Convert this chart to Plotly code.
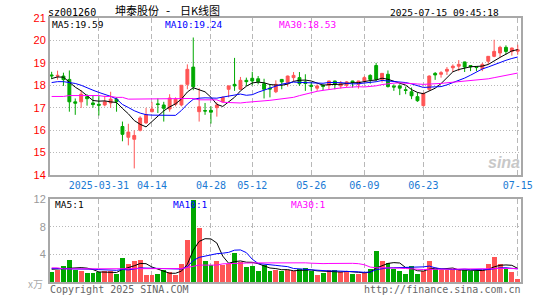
import plotly.graph_objects as go

# ---------------- data ----------------
trading_days = {
    "2025-03": [19, 20, 21, 24, 25, 26, 27, 28, 31],
    "2025-04": [1, 2, 3, 7, 8, 9, 10, 11, 14, 15, 16, 17, 18, 21, 22, 23, 24, 25, 28, 29, 30],
    "2025-05": [6, 7, 8, 9, 12, 13, 14, 15, 16, 19, 20, 21, 22, 23, 26, 27, 28, 29, 30],
    "2025-06": [3, 4, 5, 6, 9, 10, 11, 12, 13, 16, 17, 18, 19, 20, 23, 24, 25, 26, 27, 30],
    "2025-07": [1, 2, 3, 4, 7, 8, 9, 10, 11, 14, 15],
}
dates = [f"{m}-{d:02d}" for m, ds in trading_days.items() for d in ds]

opens = [18.46, 18.40, 18.41, 18.26, 17.26, 17.26, 17.49, 17.21, 17.15, 17.12,
         17.21, 17.38, 16.16, 15.68, 15.59, 15.99, 16.32, 16.82, 17.17, 17.12,
         16.94, 17.15, 17.12, 18.04, 18.81, 16.82, 16.87, 16.88, 17.00, 17.26,
         17.82, 18.04, 17.82, 18.22, 18.31, 18.29, 18.07, 17.87, 17.71, 18.26,
         18.12, 18.34, 18.34, 18.15, 18.00, 17.87, 18.00, 18.00, 18.19, 17.97,
         18.00, 18.19, 18.04, 18.19, 18.44, 18.88, 18.26, 18.49, 17.96, 17.97,
         17.80, 17.71, 17.49, 17.09, 17.82, 18.53, 18.49, 18.63, 18.78, 18.85,
         19.04, 18.88, 18.82, 18.74, 19.07, 19.29, 19.44, 19.69, 19.51, 19.52]
highs = [18.60, 18.65, 18.56, 18.66, 17.41, 17.78, 17.60, 17.56, 17.53, 17.53,
         17.71, 17.46, 16.38, 16.28, 15.99, 16.62, 16.99, 17.26, 17.41, 17.26,
         17.60, 17.46, 18.00, 18.93, 20.13, 17.87, 17.21, 17.06, 17.24, 17.50,
         17.99, 19.22, 18.37, 18.34, 18.60, 18.41, 18.29, 18.04, 18.22, 18.28,
         18.43, 18.59, 18.59, 18.49, 18.15, 18.04, 18.04, 18.20, 18.20, 18.19,
         18.19, 18.20, 18.20, 18.41, 18.49, 19.00, 18.53, 18.66, 18.04, 18.04,
         17.94, 17.90, 17.68, 17.68, 18.44, 18.59, 18.63, 18.81, 18.93, 19.12,
         19.05, 18.90, 18.83, 19.00, 19.30, 20.03, 19.76, 19.78, 19.68, 19.81]
lows = [18.27, 18.25, 17.97, 16.82, 16.68, 16.99, 17.09, 17.00, 16.65, 17.06,
        16.99, 16.82, 15.50, 15.32, 14.29, 15.94, 16.28, 16.79, 16.76, 16.38,
        16.82, 17.06, 17.06, 17.82, 17.78, 16.38, 16.68, 16.29, 16.60, 17.24,
        17.46, 17.75, 17.78, 17.97, 18.00, 18.04, 17.41, 17.46, 17.65, 17.82,
        17.94, 18.15, 17.97, 17.75, 17.75, 17.75, 17.78, 17.82, 17.82, 17.85,
        17.90, 17.90, 17.85, 18.12, 18.07, 18.19, 18.12, 17.90, 17.75, 17.56,
        17.60, 17.38, 17.26, 17.06, 17.75, 18.24, 18.34, 18.46, 18.59, 18.63,
        18.59, 18.63, 18.63, 18.63, 18.93, 19.25, 19.25, 19.37, 19.32, 19.37]
closes = [18.42, 18.44, 18.25, 17.26, 17.20, 17.60, 17.40, 17.14, 17.11, 17.26,
          17.38, 17.27, 15.81, 15.91, 15.76, 16.54, 16.69, 16.94, 17.14, 16.97,
          17.43, 17.38, 18.00, 18.71, 17.93, 17.04, 16.85, 16.80, 17.12, 17.46,
          17.97, 17.97, 18.22, 18.16, 18.19, 18.16, 17.82, 17.83, 18.04, 18.15,
          18.41, 18.44, 18.07, 18.08, 17.95, 17.97, 17.95, 18.19, 18.04, 18.07,
          18.15, 18.12, 18.19, 18.34, 18.26, 18.26, 18.53, 17.94, 17.92, 17.87,
          17.77, 17.53, 17.31, 17.63, 18.41, 18.46, 18.56, 18.71, 18.85, 18.93,
          18.81, 18.82, 18.79, 18.93, 19.29, 19.51, 19.69, 19.51, 19.66, 19.58]
volumes = [1.38, 1.71, 2.24, 3.19, 1.67, 1.62, 1.33, 1.24, 1.43, 1.52,
           1.52, 1.19, 3.48, 2.52, 3.05, 3.19, 1.05, 1.05, 1.10, 1.71,
           1.43, 1.05, 2.60, 6.05, 11.90, 7.80, 3.05, 2.43, 3.05, 2.43,
           2.62, 4.24, 2.93, 2.14, 2.34, 1.62, 2.43, 1.62, 1.71, 1.52,
           1.71, 1.57, 1.90, 2.05, 1.52, 1.05, 1.33, 1.71, 1.71, 1.43,
           1.52, 1.19, 1.19, 1.33, 1.90, 4.48, 3.05, 2.71, 1.90, 1.62,
           1.19, 2.33, 1.14, 1.62, 3.05, 1.90, 1.71, 1.76, 1.71, 1.71,
           1.71, 1.52, 1.62, 1.71, 2.62, 3.52, 2.62, 1.90, 1.43, 0.38]

# moving-average values before enough visible history exists
ma5_head = [18.30, 18.37, 18.36, 18.15]
ma10_head = [18.12, 18.16, 18.16, 18.12, 18.08, 18.00, 17.88, 17.78, 17.68]
ma30_head = [17.50, 17.50, 17.50, 17.54, 17.54, 17.54, 17.54, 17.54, 17.54, 17.50,
             17.50, 17.46, 17.46, 17.38, 17.38, 17.38, 17.38, 17.38, 17.38, 17.38,
             17.38, 17.41, 17.41, 17.41, 17.41, 17.35, 17.35, 17.35, 17.35]
vol_ma5_head = [1.85, 1.90, 1.95, 2.00]
vol_ma10_head = [1.95, 1.95, 1.95, 1.95, 1.95, 1.95, 1.90, 1.85, 1.80]
vol_ma30_head = [2.05, 2.05] + [1.90] * 20 + [1.95, 2.10, 2.30, 2.45, 2.45, 2.45, 2.45]

tick_dates = ["2025-03-31", "2025-04-14", "2025-04-28", "2025-05-12",
              "2025-05-26", "2025-06-09", "2025-06-23", "2025-07-15"]
tick_labels = ["2025-03-31", "04-14", "04-28", "05-12", "05-26", "06-09", "06-23", "07-15"]
price_ticks = [14, 15, 16, 17, 18, 19, 20, 21]
vol_ticks = [4, 8, 12]
ma_labels = ["MA5:19.59", "MA10:19.24", "MA30:18.53"]
vol_ma_labels = ["MA5:1", "MA10:1", "MA30:1"]
code = "sz001260"
name_parts = ["坤泰股份", "-", "日K线图"]
timestamp = "2025-07-15 09:45:18"


def moving_avg(values, n, head):
    out = list(head)
    for i in range(len(head), len(values)):
        out.append(sum(values[i - n + 1:i + 1]) / n)
    return out


idx = list(range(len(dates)))
ma5 = moving_avg(closes, 5, ma5_head)
ma10 = moving_avg(closes, 10, ma10_head)
ma30 = moving_avg(closes, 30, ma30_head)
vma5 = moving_avg(volumes, 5, vol_ma5_head)
vma10 = moving_avg(volumes, 10, vol_ma10_head)
vma30 = moving_avg(volumes, 30, vol_ma30_head)

# ---------------- styling ----------------
W, H = 545, 300
L, R, T, B = 50, 16, 18, 15
PW, PH = W - L - R, H - T - B
RED, GREEN = "#ff5555", "#00a800"
MA_COLORS = ["#000000", "#0000ff", "#ff00ff"]
FRAME = "#a8a8a8"
GRID = "#b8b8b8"
MONO = "DejaVu Sans Mono"


def px(x):
    return (x - L) / PW


def py(y):
    return (H - B - y) / PH


fig = go.Figure()
fig.add_trace(go.Candlestick(
    x=idx, open=opens, high=highs, low=lows, close=closes,
    increasing=dict(line=dict(color=RED, width=1), fillcolor=RED),
    decreasing=dict(line=dict(color=GREEN, width=1), fillcolor=GREEN),
    whiskerwidth=0, xaxis="x", yaxis="y", hoverinfo="skip"))
for series, col in zip([ma5, ma10, ma30], MA_COLORS):
    fig.add_trace(go.Scatter(x=idx, y=series, mode="lines", line=dict(color=col, width=1),
                             xaxis="x", yaxis="y", hoverinfo="skip"))

bar_colors = [RED if c > o else GREEN for o, c in zip(opens, closes)]
fig.add_trace(go.Bar(x=idx, y=volumes, marker=dict(color=bar_colors, line=dict(width=0)),
                     width=0.83, xaxis="x2", yaxis="y2", hoverinfo="skip"))
for series, col in zip([vma5, vma10, vma30], MA_COLORS):
    fig.add_trace(go.Scatter(x=idx, y=series, mode="lines", line=dict(color=col, width=1),
                             xaxis="x2", yaxis="y2", hoverinfo="skip"))

tickvals = [dates.index(d) for d in tick_dates]
xrange_ = [-0.28, len(dates) - 0.45]
common_x = dict(range=xrange_, tickvals=tickvals, showgrid=True, gridcolor=GRID,
                griddash="5px,3px", gridwidth=1, showline=True, mirror=True,
                linecolor=FRAME, linewidth=2, ticks="", zeroline=False, fixedrange=True)
common_y = dict(showgrid=True, gridcolor=GRID, griddash="1px,2px", gridwidth=1,
                showline=True, mirror=True, linecolor=FRAME, linewidth=2,
                ticks="", zeroline=False, fixedrange=True)

fig.update_layout(
    width=W, height=H, margin=dict(l=L, r=R, t=T, b=B),
    paper_bgcolor="white", plot_bgcolor="white", showlegend=False,
    bargap=0, boxgap=0.3,
    xaxis=dict(common_x, domain=[0, 1], anchor="y", ticktext=tick_labels,
               tickfont=dict(family=MONO, size=10, color="#1a7ad4"),
               rangeslider=dict(visible=False)),
    yaxis=dict(common_y, domain=[py(176.7), 1], anchor="x", range=[14, 21],
               tickvals=price_ticks, tickfont=dict(family="Liberation Sans", size=11, color="#ff0000")),
    xaxis2=dict(common_x, domain=[0, 1], anchor="y2", matches="x", showticklabels=False),
    yaxis2=dict(common_y, domain=[0, py(201.3)], anchor="x2", range=[0, 12],
                tickvals=vol_ticks, tickfont=dict(family="Liberation Sans", size=11, color="#999999")),
)

ann = []


def text(x, y, s, color="#000000", size=9.5, anchor="left", family=MONO, **kw):
    ann.append(dict(x=px(x), y=py(y), xref="paper", yref="paper", text=s, showarrow=False,
                    xanchor=anchor, yanchor="middle", font=dict(family=family, size=size, color=color),
                    borderpad=0, **kw))


text(47, 12, code, size=10)
text(115, 9.5, name_parts[0], size=11, family="Noto Sans CJK SC")
text(169.5, 9.5, name_parts[1], size=12, family="Noto Sans CJK SC", anchor="center")
text(181, 9.5, name_parts[2], size=11, family="Noto Sans CJK SC")
text(508, 12, timestamp, anchor="right")
for xpos, lab, col in zip([51, 166, 282], ma_labels, MA_COLORS):
    text(xpos, 24.5, lab, color=col)
for xpos, lab, col in zip([54, 174, 294], vol_ma_labels, MA_COLORS):
    text(xpos, 206.5, lab, color=col)
text(27, 286.5, "x万", color="#aaaaaa", size=10, family="Noto Sans CJK SC")
text(49, 293, "Copyright 2025 SINA.COM", color="#666666", size=10)
text(530, 293, "http://finance.sina.com.cn", color="#666666", size=10, anchor="right")
text(512, 164, "<b><i>sina</i></b>", color="#c8c8c8", size=16, anchor="center", family="Liberation Sans")
fig.update_layout(annotations=ann)

fig.write_html("out.html")
